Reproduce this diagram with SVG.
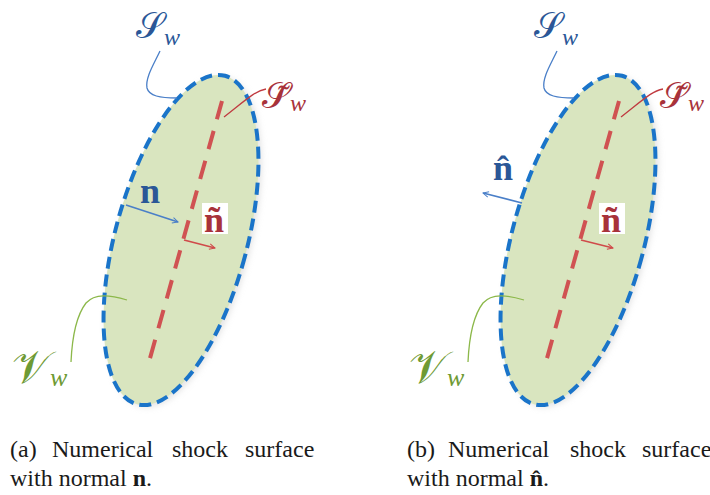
<svg xmlns="http://www.w3.org/2000/svg" width="710" height="495" viewBox="0 0 710 495">
<style>
text{font-family:"Liberation Serif","Times New Roman",serif}
.cap{font-size:24px;fill:#1a1a1a}
.blue{fill:#2b5797}.red{fill:#a8323a}.green{fill:#6e9a34}
.bn{font-weight:bold;font-size:36px}
.sub{font-style:italic}
.body{fill:#d9e5bf;stroke:#1a74c9;stroke-width:4;stroke-dasharray:12 6}
.shadow{fill:#c8c8c8;opacity:0.5}
.axis{stroke:#d05252;stroke-width:4;stroke-dasharray:19 12}
.lb{stroke:#4a7fc8;stroke-width:1.3}
.lr{stroke:#c03a40;stroke-width:1.3}
.lg{stroke:#8cb84a;stroke-width:1.3}
.ab{stroke:#4a7fc8;stroke-width:1.6}
.ar{stroke:#d04a4a;stroke-width:1.8}
</style>
<defs>
<marker id="hb" viewBox="0 0 10 10" refX="9" refY="5" markerWidth="7" markerHeight="7" orient="auto" markerUnits="userSpaceOnUse">
<path d="M1,1 L9,5 L1,9" fill="none" stroke="#4a7fc8" stroke-width="1.4"/>
</marker>
<marker id="hr" viewBox="0 0 10 10" refX="9" refY="5" markerWidth="7" markerHeight="7" orient="auto" markerUnits="userSpaceOnUse">
<path d="M1,1 L9,5 L1,9" fill="none" stroke="#d04a4a" stroke-width="1.5"/>
</marker>
<filter id="sh" x="-20%" y="-20%" width="140%" height="140%">
<feGaussianBlur stdDeviation="3"/>
</filter>
<ellipse id="vol" cx="0" cy="0" rx="66" ry="170" transform="rotate(15)"/>
</defs>

<g id="panel-a">
<g id="volume-a">
<use href="#vol" x="184" y="242" class="shadow" filter="url(#sh)"/>
<use href="#vol" x="181" y="240" class="body"/>
</g>
<g id="shock-a"><line class="axis" x1="222" y1="101" x2="147" y2="369"/></g>
<g id="label-Sw-a"><text class="blue" font-size="36" x="136" y="38">𝒮<tspan class="sub" font-size="24" dy="7">w</tspan></text></g>
<g id="label-St-a"><text class="red" font-size="36" x="262" y="108">𝒮̃<tspan class="sub" font-size="24" dy="3">w</tspan></text></g>
<g id="label-Vw-a"><text class="green" font-size="46" x="12" y="383">𝒱<tspan class="sub" font-size="26" dy="3">w</tspan></text></g>
<g id="label-n-a"><text class="blue bn" x="140" y="203">n</text></g>
<g id="label-nt-a"><rect x="202" y="203" width="26" height="31" fill="#fff"/><text class="red bn" x="204" y="232">ñ</text></g>
</g>

<g id="panel-b">
<g id="volume-b">
<use href="#vol" x="581" y="242" class="shadow" filter="url(#sh)"/>
<use href="#vol" x="578" y="240" class="body"/>
</g>
<g id="shock-b"><line class="axis" x1="619" y1="101" x2="544" y2="369"/></g>
<g id="label-Sw-b"><text class="blue" font-size="36" x="534" y="38">𝒮<tspan class="sub" font-size="24" dy="7">w</tspan></text></g>
<g id="label-St-b"><text class="red" font-size="36" x="660" y="108">𝒮̃<tspan class="sub" font-size="24" dy="3">w</tspan></text></g>
<g id="label-Vw-b"><text class="green" font-size="46" x="409" y="383">𝒱<tspan class="sub" font-size="26" dy="3">w</tspan></text></g>
<g id="label-nh-b"><text class="blue bn" x="493" y="180">n̂</text></g>
<g id="label-nt-b"><rect x="599" y="203" width="26" height="31" fill="#fff"/><text class="red bn" x="601" y="232">ñ</text></g>
</g>

<g id="connectors" fill="none">
<path class="lb" d="M160,51 C154,64 145,78 147,88 C149,96 160,98 177,98"/>
<path class="lb" d="M557,51 C551,64 542,78 544,88 C546,96 557,98 574,98"/>
<path class="lr" d="M266,89 C255,91 247,99 224,117"/>
<path class="lr" d="M663,89 C652,91 644,99 621,117"/>
<path class="lg" d="M127,300 C110,295 95,293 86,303 C76,316 72,340 71,362"/>
<path class="lg" d="M524,300 C507,295 492,293 483,303 C473,316 469,340 468,362"/>
<line class="ab" x1="126" y1="205" x2="178" y2="222" marker-end="url(#hb)"/>
<line class="ab" x1="522" y1="203" x2="483" y2="193" marker-end="url(#hb)"/>
<line class="ar" x1="184" y1="240" x2="215" y2="248" marker-end="url(#hr)"/>
<line class="ar" x1="581" y1="240" x2="613" y2="248" marker-end="url(#hr)"/>
</g>

<g id="caption-a">
<text class="cap" x="10" y="457">(a)</text>
<text class="cap" x="52" y="457">Numerical</text>
<text class="cap" x="172" y="457">shock</text>
<text class="cap" x="245" y="457">surface</text>
<text class="cap" x="10" y="486">with normal <tspan font-weight="bold">n</tspan>.</text>
</g>
<g id="caption-b">
<text class="cap" x="407" y="457">(b)</text>
<text class="cap" x="448" y="457">Numerical</text>
<text class="cap" x="570" y="457">shock</text>
<text class="cap" x="642" y="457">surface</text>
<text class="cap" x="407" y="486">with normal <tspan font-weight="bold">n̂</tspan>.</text>
</g>
</svg>
